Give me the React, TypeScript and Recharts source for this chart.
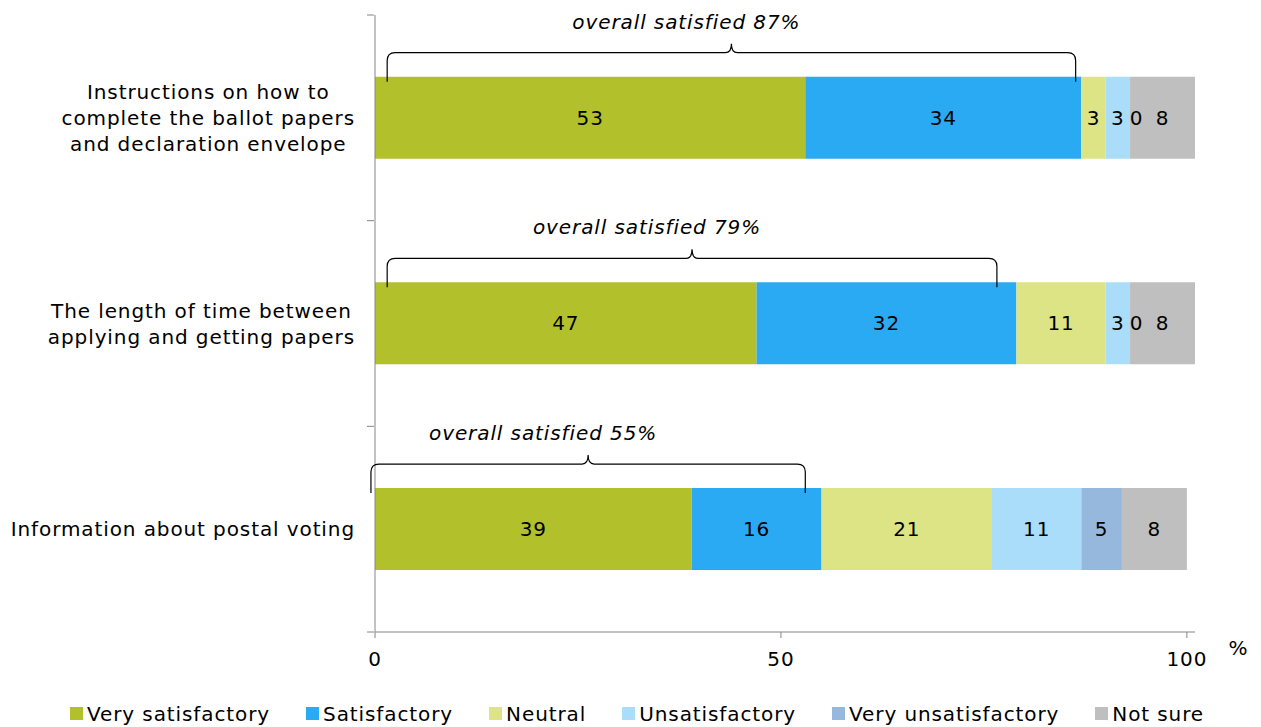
import React from 'react';
import {
  BarChart,
  Bar,
  XAxis,
  YAxis,
  Legend,
  LabelList,
  Label,
} from 'recharts';

// rows, top to bottom
const categories = [
  'Instructions on how to complete the ballot papers and declaration envelope',
  'The length of time between applying and getting papers',
  'Information about postal voting',
];
const categoryLines = [
  ['Instructions on how to', 'complete the ballot papers', 'and declaration envelope'],
  ['The length of time between', 'applying and getting papers'],
  ['Information about postal voting'],
];

const verySatisfactory = [53, 47, 39];
const satisfactory = [34, 32, 16];
const neutral = [3, 11, 21];
const unsatisfactory = [3, 3, 11];
const veryUnsatisfactory = [0, 0, 5];
const notSure = [8, 8, 8];

// "overall satisfied" brackets (percent units as drawn)
const overallSatisfied = [87, 79, 55];
const bracketFrom = [1.5, 1.5, -0.5];
const bracketTo = [86.3, 76.6, 53];

const xTicks = [0, 50, 100];

const series = [
  { key: 'vs', name: 'Very satisfactory', color: '#B2C02B', values: verySatisfactory },
  { key: 's', name: 'Satisfactory', color: '#2AAAF2', values: satisfactory },
  { key: 'n', name: 'Neutral', color: '#DCE485', values: neutral },
  { key: 'u', name: 'Unsatisfactory', color: '#AADDFA', values: unsatisfactory },
  { key: 'vu', name: 'Very unsatisfactory', color: '#97B8DD', values: veryUnsatisfactory },
  { key: 'ns', name: 'Not sure', color: '#BFBFBF', values: notSure },
];

const data = categories.map((name, i) => {
  const row: any = { name };
  series.forEach(s => (row[s.key] = s.values[i]));
  return row;
});

const FONT = '"DejaVu Sans", Verdana, sans-serif';
const FS = 20;
const LS = 0.9;
const W = 1261;
const H = 727;
const TOP = 15;
const BOTTOM_AXIS = 632;
const AXIS_GREY = '#868686';

let ctx: CanvasRenderingContext2D | null = null;
const measure = (t: string, size: number) => {
  if (!ctx) ctx = document.createElement('canvas').getContext('2d');
  if (!ctx) return t.length * size * 0.6;
  ctx.font = `${size}px ${FONT}`;
  return ctx.measureText(t).width + t.length * LS;
};

const CategoryTick = (props: any) => {
  const { x, y, payload, index } = props;
  const idx = categories.indexOf(payload.value);
  const lines = categoryLines[idx] || [payload.value];
  const lh = 26;
  const blockW = Math.max(...lines.map(l => measure(l, FS)));
  const right = x - 12;
  const cx = right - blockW / 2;
  const half = (BOTTOM_AXIS - TOP) / categories.length / 2;
  const x0 = x + 7;
  return (
    <g>
      <line x1={x0 - 7} x2={x0} y1={y - half} y2={y - half} stroke={AXIS_GREY} />
      {index === categories.length - 1 && (
        <line x1={x0 - 7} x2={x0} y1={y + half} y2={y + half} stroke={AXIS_GREY} />
      )}
      <text textAnchor="middle" fontFamily={FONT} fontSize={FS} letterSpacing={LS} fill="#000">
        {lines.map((l, i) => (
          <tspan key={i} x={cx} y={y + (i - (lines.length - 1) / 2) * lh} dy="0.35em">
            {l}
          </tspan>
        ))}
      </text>
    </g>
  );
};

const Bracket = (props: any) => {
  const { x, width, value, index } = props;
  const vb = props.viewBox || {};
  if (!value) return null;
  const top = Math.min(vb.y, vb.y + vb.height);
  const k = width / value;
  const x1 = x + bracketFrom[index] * k;
  const x2 = x + bracketTo[index] * k;
  const pk = (x1 + x2) / 2;
  const hy = top - 24;
  const d = `M${x1},${top + 5} L${x1},${hy + 8} Q${x1},${hy} ${x1 + 8},${hy} L${pk - 6},${hy} Q${pk},${hy} ${pk},${hy - 9} Q${pk},${hy} ${pk + 6},${hy} L${x2 - 8},${hy} Q${x2},${hy} ${x2},${hy + 8} L${x2},${top + 5}`;
  return (
    <g>
      <path d={d} fill="none" stroke="#000" strokeWidth={1.2} />
      <text
        x={pk - 45}
        y={top - 55}
        dy="0.35em"
        textAnchor="middle"
        fontFamily={FONT}
        fontStyle="italic"
        fontSize={FS}
        letterSpacing={LS}
        fill="#000"
      >
        {`overall satisfied ${overallSatisfied[index]}%`}
      </text>
    </g>
  );
};

// zero-width "Very unsatisfactory" segments still show their 0 just after Unsatisfactory
const ZeroNext = (props: any) => {
  const { x, width, index } = props;
  const vb = props.viewBox || {};
  const v = veryUnsatisfactory[index];
  if (v !== 0) return null;
  const top = Math.min(vb.y, vb.y + vb.height);
  const h = Math.abs(vb.height);
  return (
    <text
      x={x + width + 6}
      y={top + h / 2}
      dy="0.35em"
      textAnchor="middle"
      fontFamily={FONT}
      fontSize={FS}
      fill="#000"
    >
      {v}
    </text>
  );
};

const LegendContent = () => (
  <div
    style={{
      display: 'flex',
      justifyContent: 'flex-start',
      alignItems: 'center',
      height: 30,
      paddingLeft: 70,
      paddingTop: 3,
      boxSizing: 'border-box',
      whiteSpace: 'nowrap',
      fontFamily: FONT,
      fontSize: FS,
      letterSpacing: LS,
      color: '#000',
    }}
  >
    {series.map((s, i) => (
      <div
        key={s.key}
        style={{ display: 'flex', alignItems: 'center', flexShrink: 0, marginLeft: i === 0 ? 0 : 36 }}
      >
        <span style={{ width: 13, height: 13, background: s.color, marginRight: 4, display: 'inline-block' }} />
        <span>{s.name}</span>
      </div>
    ))}
  </div>
);

const PercentLabel = (props: any) => {
  const vb = props.viewBox || {};
  return (
    <text
      x={vb.x + vb.width + 43}
      y={vb.y + 16}
      dy="0.35em"
      textAnchor="middle"
      fontFamily={FONT}
      fontSize={FS}
      fill="#000"
    >
      %
    </text>
  );
};

export default function App() {
  return (
    <div style={{ position: 'absolute', left: 0, top: 0, width: W, height: H, background: '#fff' }}>
      <BarChart
        width={W}
        height={H}
        data={data}
        layout="vertical"
        margin={{ top: TOP, right: 66, bottom: 0, left: 0 }}
        barCategoryGap="30%"
      >
        <XAxis
          type="number"
          domain={[0, 101]}
          ticks={xTicks}
          allowDataOverflow
          stroke={AXIS_GREY}
          tickSize={6}
          tickMargin={14}
          height={65}
          tick={{ fill: '#000', fontSize: FS, fontFamily: FONT, letterSpacing: LS }}
        >
          <Label content={<PercentLabel />} />
        </XAxis>
        <YAxis
          type="category"
          dataKey="name"
          width={375}
          stroke={AXIS_GREY}
          tickLine={false}
          tick={<CategoryTick />}
        />
        <Legend verticalAlign="bottom" content={<LegendContent />} />
        {series.map(s => (
          <Bar key={s.key} dataKey={s.key} name={s.name} stackId="a" fill={s.color} isAnimationActive={false}>
            <LabelList
              dataKey={s.key}
              position="center"
              fill="#000"
              fontSize={FS}
              fontFamily={FONT}
              letterSpacing={LS}
            />
            {s.key === 'vs' && <LabelList dataKey="vs" content={<Bracket />} />}
            {s.key === 'u' && <LabelList dataKey="u" content={<ZeroNext />} />}
          </Bar>
        ))}
      </BarChart>
    </div>
  );
}
